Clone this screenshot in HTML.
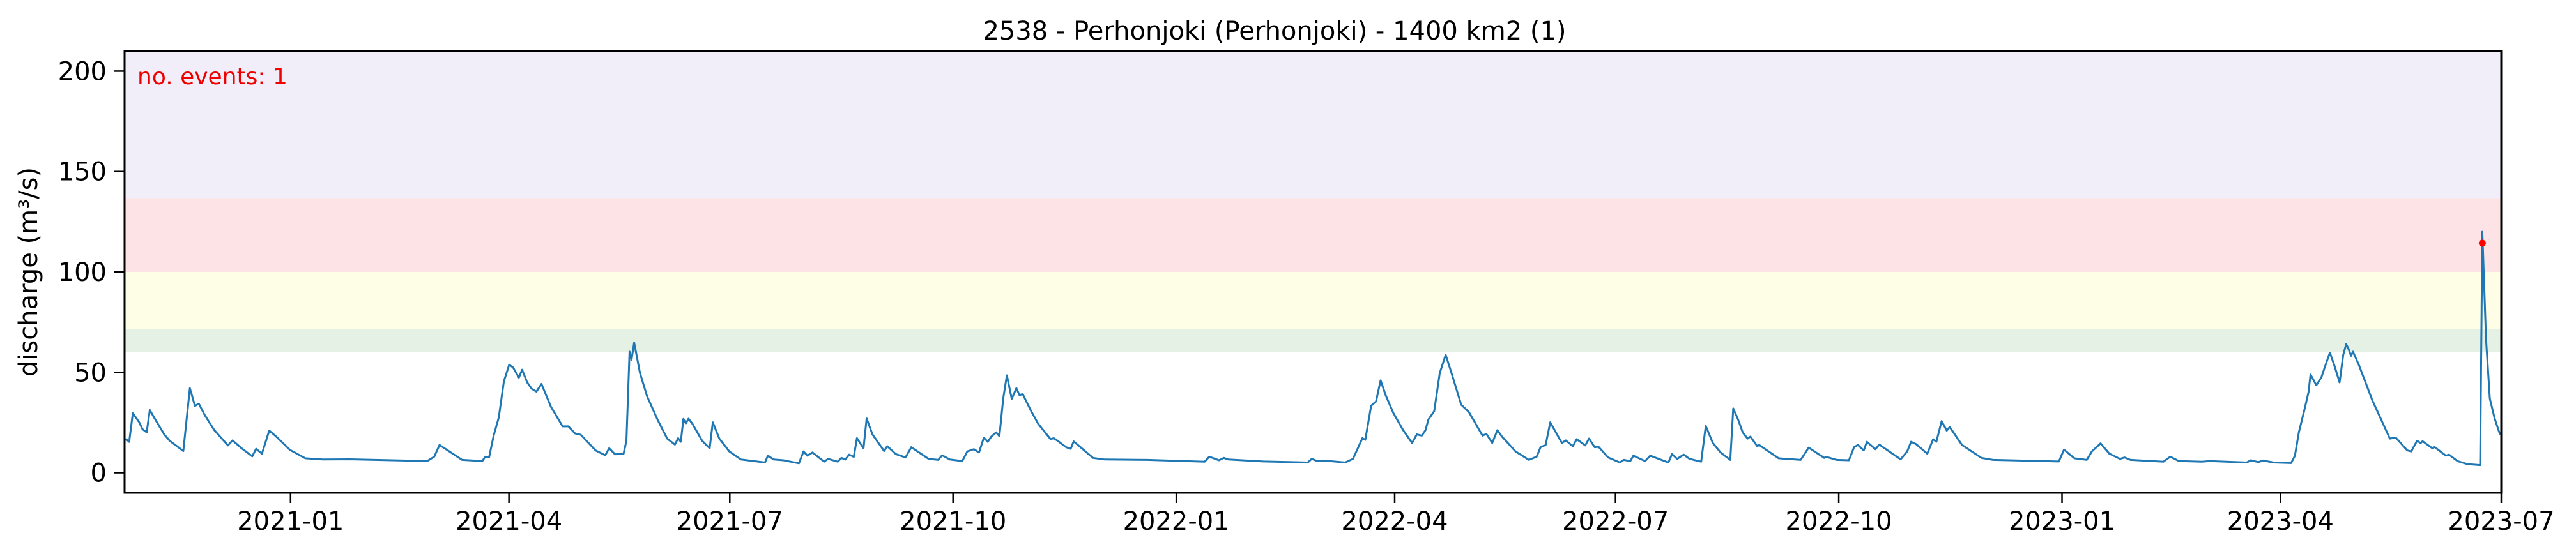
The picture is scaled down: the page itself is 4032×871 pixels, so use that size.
<!DOCTYPE html>
<html><head><meta charset="utf-8">
<style>
html,body{margin:0;padding:0;background:#fff;}
svg{display:block;}
text{font-family:"DejaVu Sans","Liberation Sans",sans-serif;}
</style></head>
<body>
<svg id="chart" width="4032" height="871" viewBox="0 0 4032 871" xmlns="http://www.w3.org/2000/svg">
  <text x="1995" y="62" font-size="40" text-anchor="middle" fill="#000">2538 - Perhonjoki (Perhonjoki) - 1400 km2 (1)</text>
  <g id="bands"></g>
  <g id="series"></g>
  <g id="axes"></g>
  <text x="215" y="132" font-size="36" fill="#ee0000">no. events: 1</text>
  <text transform="translate(58,426) rotate(-90)" font-size="40" text-anchor="middle" fill="#000">discharge (m³/s)</text>
</svg>
<script>
// ---- data ----
const startDate = "2021-01-01"; // day 0
const dayIndex = [-68,-66.5,-65,-62.5,-61,-59.3,-58,-56,-52,-49.8,-44.2,-41.5,-39.4,-37.8,-35.4,-31.4,-25.8,-23.9,-20.2,-15.8,-14.2,-11.8,-8.8,-5.9,-0.3,6.1,13.2,24.4,42,56.3,59.2,61.4,70.7,79,80.2,81.8,83.7,85.8,87.9,90.1,91.7,94.1,95.4,97.5,99.4,101.3,103.4,107.3,112.1,114.5,117.2,119.6,125.7,129.7,131.3,133.7,137.2,138.4,139.7,140.5,141.6,144,146.9,151.2,155.2,158.4,159.7,160.8,161.9,162.9,164,165.6,169.6,172.7,174,176.7,180.8,185.6,195.5,196.7,199.1,203.1,209.5,211.4,213,215.1,219.9,221.5,225.5,227,228.6,230.2,232.1,233.4,236.1,237.4,239.8,244.6,245.9,249.4,253.4,255.8,262.9,266.9,268.5,271.7,276.8,278.9,281.6,283.7,285.7,287.3,288.8,290.8,292.1,293.7,295.2,297.2,299.1,300.4,301.7,305.2,308.1,313.2,314.5,316.1,319.6,321.5,322.7,330.7,335.5,353,376.7,378.6,382.6,384.6,386.5,400.9,419.2,420.8,423.2,428.2,434.6,437.8,440.2,441.7,442.9,445.3,447.3,449.2,451.3,454.5,458.5,462.2,464.1,466.2,467.7,468.9,471.3,473.6,476,478.4,482.4,485.6,491.2,492.8,495.2,497.3,499.2,504.8,510.3,513.5,515.1,517.2,519.1,523.9,525.5,528.4,530,531.5,533.5,535.1,537.4,539,543,547.8,549.4,552.1,553.4,558.2,560.3,563.8,567.8,569.3,571.4,574.1,576.5,581.3,583.2,586.1,589.3,593.3,594.5,596.5,598.4,600.4,601.6,604.4,605.2,613.2,622.3,625.6,632,632.7,637.1,642.2,644.3,645.9,648.3,649.6,653.1,654.7,663.5,666.2,667.8,669.8,674.5,676.9,678.2,680.4,682.5,683.7,688.8,696.8,701.6,728.7,730.8,735.1,740.2,742.3,745.9,749.5,753.9,755.8,758.2,771.8,774.6,778.2,787.7,790.9,806.1,807.8,810.9,812.8,817.2,824.4,826,827.6,830,831.6,832.4,834.8,836.9,838.1,840.4,842.3,844.4,845.9,847.1,848,849.1,849.9,852.3,857.9,865.1,867.5,872.3,873.9,876.3,877.8,878.6,882.6,883.4,888.2,889.5,893,897,902.3,903.2,904.7,906.3,908.3,910.5];
const discharge = [17,15.4,29.6,25.4,21.7,20.1,31.2,27,19,15.9,10.8,42.1,33.3,34.4,28.8,21.2,13.6,16.1,12.2,8.2,11.9,9.5,21,18,11.4,7.2,6.6,6.7,6.2,5.8,8,13.8,6.4,5.8,8,7.6,18.5,27.5,45.5,53.8,52.4,47.4,51.3,45,41.8,40.4,44.2,32.8,23.1,23.1,19.6,18.9,11.1,8.7,12.2,9.2,9.3,15.9,60.3,56.3,64.8,49.7,38.1,26.5,17,14,17.2,15.4,26.8,24.6,26.9,24.4,15.9,12.2,25.1,17,10.6,6.6,5.1,8.5,6.6,6.2,4.7,10.6,8.5,10.1,5.5,6.9,5.5,7.4,6.6,9,7.9,17.2,12.2,27,19.1,10.8,13.2,9.3,7.6,12.7,6.9,6.4,8.7,6.6,5.8,10.6,11.7,10.1,17.5,15.4,18,20.1,18.2,37,48.5,36.8,42.1,38.6,39.2,30.7,24.4,16.7,17.2,15.9,12.7,11.9,15.6,7.4,6.6,6.4,5.5,8,6.2,7.4,6.6,5.6,5.1,6.9,5.8,5.8,5.1,6.9,13.2,17.2,16.4,33.4,35.5,46,38.6,29.6,21.2,14.8,19.1,18.5,21.2,26.5,30.7,49.7,58.7,49.7,33.9,30.2,18.5,19.3,14.8,21.2,18,10.6,6.4,8,12.7,13.8,25.1,14.8,16.1,13.2,16.7,15.4,13.6,17,12.7,12.9,7.6,5.1,6.4,5.8,8.5,5.8,8.5,6.9,5.1,9.3,6.9,9,6.9,5.5,23.3,14.8,10.1,6.4,32,26.5,20.1,17,18,13.2,13.8,7.2,6.4,12.5,7.4,8,6.4,6.2,12.7,13.8,11.1,15.4,11.7,14,6.7,10.6,15.4,14.3,9.5,16.7,15.4,25.7,21,22.8,13.8,7.4,6.4,5.6,11.5,7.2,6.4,10.6,14.6,9.5,6.9,7.6,6.4,5.5,8,5.8,5.5,5.8,5.1,6.2,5.3,6.1,5.1,4.8,8.5,20.1,31.8,40.2,48.9,43.6,47.6,51.9,59.8,53.1,45,58.7,64,61.9,58.2,60.3,53.8,36,17,17.5,11.1,10.6,15.9,14.8,15.7,12.2,12.9,8.5,9,5.8,4.3,3.8,120,67,37,27,19];
const eventDay = [903.2];
const eventValue = [114.3];
const bandLow = [60.2, 71.7, 100, 136.8];
const bandHigh = [71.7, 100, 136.8, 210];
const bandColor = ["#e4f1e4", "#fefee6", "#fde3e5", "#f1eef9"];
const yTicks = [0, 50, 100, 150, 200];
const xTickLabels = ["2021-01","2021-04","2021-07","2021-10","2022-01","2022-04","2022-07","2022-10","2023-01","2023-04","2023-07"];
const xTickDays = [0, 90, 181, 273, 365, 455, 546, 638, 730, 820, 911];

// ---- scales ----
const L = 195, R = 3915, T = 80, B = 772;
const dMin = -68.4, dMax = 911, yMin = -10, yMax = 210;
const X = d => L + (d - dMin) / (dMax - dMin) * (R - L);
const Y = v => B - (v - yMin) / (yMax - yMin) * (B - T);
const NS = "http://www.w3.org/2000/svg";
function mk(tag, attrs, parent) {
  const e = document.createElementNS(NS, tag);
  for (const k in attrs) e.setAttribute(k, attrs[k]);
  parent.appendChild(e);
  return e;
}
const bands = document.getElementById('bands');
for (let i = 0; i < bandLow.length; i++) {
  const r = mk('rect', {x: L, y: Y(bandHigh[i]), width: R - L, height: Y(bandLow[i]) - Y(bandHigh[i]), fill: bandColor[i]}, bands);
  
  
}
const series = document.getElementById('series');
const clip = mk('clipPath', {id: 'plotclip'}, series);
mk('rect', {x: L, y: T, width: R - L, height: B - T}, clip);
const pts = dayIndex.map((d, i) => X(d).toFixed(1) + ',' + Y(discharge[i]).toFixed(1)).join(' ');
const line = mk('polyline', {points: pts, fill: 'none', stroke: '#1f77b4', 'stroke-width': 3, 'stroke-linejoin': 'round', 'clip-path': 'url(#plotclip)'}, series);


for (let i = 0; i < eventDay.length; i++) {
  const c = mk('circle', {cx: X(eventDay[i]), cy: Y(eventValue[i]), r: 5.5, fill: '#ff0000'}, series);
  
  
}
const axes = document.getElementById('axes');
const frame = mk('rect', {x: L, y: T, width: R - L, height: B - T, fill: 'none', stroke: '#000', 'stroke-width': 3}, axes);


yTicks.forEach(v => {
  const y = Y(v);
  const t = mk('line', {x1: L - 16, x2: L, y1: y, y2: y, stroke: '#000', 'stroke-width': 2.5}, axes);
  
  
  const lb = mk('text', {x: L - 28, y: y + 14, 'font-size': 40, 'text-anchor': 'end', fill: '#000'}, axes);
  lb.textContent = v;
  
  
});
xTickDays.forEach((d, i) => {
  const x = X(d);
  const t = mk('line', {x1: x, x2: x, y1: B, y2: B + 16, stroke: '#000', 'stroke-width': 2.5}, axes);
  
  
  const lb = mk('text', {x: x, y: 830, 'font-size': 40, 'text-anchor': 'middle', fill: '#000'}, axes);
  lb.textContent = xTickLabels[i];
  
  
});
</script>
</body></html>
